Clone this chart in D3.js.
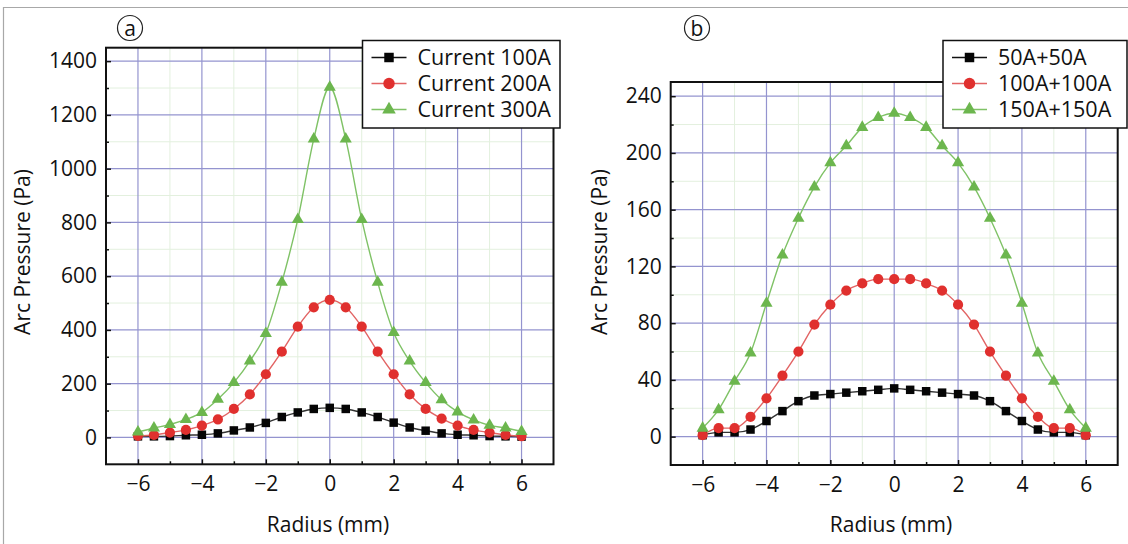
<!DOCTYPE html>
<html>
<head>
<meta charset="utf-8">
<script src="https://cdn.jsdelivr.net/npm/d3@7"></script>
<style>
  body { margin: 0; background: #fff; }
  svg text { font-family: "Open Sans", sans-serif; fill: #111; }
</style>
</head>
<body>
<svg id="chart" width="1128" height="544"></svg>
<script>
// radius positions (mm), shared by all six curves
const radius = [-6, -5.5, -5, -4.5, -4, -3.5, -3, -2.5, -2, -1.5, -1, -0.5, 0,
                0.5, 1, 1.5, 2, 2.5, 3, 3.5, 4, 4.5, 5, 5.5, 6];

// panel a : single arc, arc pressure (Pa)
const current100 = [4, 4, 5, 8, 10, 15, 26, 37, 54, 76, 93, 106, 110, 106, 93, 76, 55, 37, 25, 15, 10, 8, 5, 4, 3];
const current200 = [6, 9, 18, 28, 44, 67, 106, 160, 235, 319, 412, 484, 512, 484, 412, 319, 235, 160, 106, 70, 44, 28, 18, 9, 5];
const current300 = [20, 35, 48, 67, 93, 142, 204, 284, 387, 577, 811, 1110, 1303, 1110, 811, 577, 390, 284, 204, 140, 95, 65, 45, 35, 22];

// panel b : twin arc, arc pressure (Pa)
const twin50  = [1, 3, 3, 5, 11, 18, 25, 29, 30, 31, 32, 33, 34, 33, 32, 31, 30, 29, 25, 18, 11, 5, 3, 3, 1];
const twin100 = [1, 6, 6, 14, 27, 43, 60, 79, 93, 103, 108, 111, 111, 111, 108, 103, 93, 79, 60, 43, 27, 14, 6, 6, 1];
const twin150 = [6, 19, 39, 59, 94, 128, 154, 176, 193, 205, 218, 225, 228, 225, 218, 205, 193, 176, 154, 128, 94, 59, 39, 19, 6];

const namesA = ["Current 100A", "Current 200A", "Current 300A"];
const namesB = ["50A+50A", "100A+100A", "150A+150A"];

const xTicks = [-6, -4, -2, 0, 2, 4, 6];
const xMinor = [-5, -3, -1, 1, 3, 5];
const yTicksA = [0, 200, 400, 600, 800, 1000, 1200, 1400];
const yMinorA = [100, 300, 500, 700, 900, 1100, 1300];
const yTicksB = [0, 40, 80, 120, 160, 200, 240];
const yMinorB = [20, 60, 100, 140, 180, 220];

const xTitle = "Radius (mm)";
const yTitle = "Arc Pressure (Pa)";

// marker / line styles per series index
const styles = [
  { sym: d3.symbolSquare,   size: 72, fill: "#050505", line: "#333333" },
  { sym: d3.symbolCircle,   size: 82, fill: "#e0302e", line: "#e26464" },
  { sym: d3.symbolTriangle, size: 64, fill: "#6cb64e", line: "#7fc266" }
];

const svg = d3.select("#chart");

// outer figure border
svg.append("path")
  .attr("d", "M3.5,544 L3.5,7.5 L1128,7.5")
  .attr("fill", "none")
  .attr("stroke", "#a8a8a8")
  .attr("stroke-width", 1.2);

function panel(cfg) {
  const x = d3.scaleLinear().domain([-7, 7]).range([cfg.left, cfg.right]);
  const y = d3.scaleLinear().domain(cfg.yDomain).range([cfg.bottom, cfg.top]);
  const g = svg.append("g");

  // minor grid
  g.append("g").selectAll("line")
    .data(xMinor)
    .enter().append("line")
    .attr("x1", d => x(d)).attr("x2", d => x(d))
    .attr("y1", cfg.top).attr("y2", cfg.bottom)
    .attr("stroke", "#e3f0de").attr("stroke-width", 1);
  g.append("g").selectAll("line")
    .data(cfg.yMinor)
    .enter().append("line")
    .attr("x1", cfg.left).attr("x2", cfg.right)
    .attr("y1", d => y(d)).attr("y2", d => y(d))
    .attr("stroke", "#e3f0de").attr("stroke-width", 1);

  // major grid
  g.append("g").selectAll("line")
    .data(xTicks)
    .enter().append("line")
    .attr("x1", d => x(d)).attr("x2", d => x(d))
    .attr("y1", cfg.top).attr("y2", cfg.bottom)
    .attr("stroke", "#9494cf").attr("stroke-width", 1.2);
  g.append("g").selectAll("line")
    .data(cfg.yTicks)
    .enter().append("line")
    .attr("x1", cfg.left).attr("x2", cfg.right)
    .attr("y1", d => y(d)).attr("y2", d => y(d))
    .attr("stroke", "#9494cf").attr("stroke-width", 1.2);

  // curves
  const line = d3.line()
    .x((d, i) => x(radius[i]))
    .y(d => y(d))
    .curve(d3.curveMonotoneX);

  cfg.series.forEach((vals, k) => {
    const st = styles[k];
    g.append("path")
      .datum(vals)
      .attr("d", line)
      .attr("fill", "none")
      .attr("stroke", st.line)
      .attr("stroke-width", 1.4);
  });
  cfg.series.forEach((vals, k) => {
    const st = styles[k];
    g.append("g").selectAll("path")
      .data(vals)
      .enter().append("path")
      .attr("transform", (d, i) => "translate(" + x(radius[i]) + "," + y(d) + ")")
      .attr("d", d3.symbol().type(st.sym).size(st.size))
      .attr("fill", st.fill);
  });

  // axes with inward ticks
  const fmt = d3.format("");
  const xAxis = g.append("g")
    .attr("transform", "translate(0," + cfg.bottom + ")")
    .call(d3.axisBottom(x).tickValues(xTicks).tickSize(-5).tickPadding(12).tickFormat(fmt));
  const xAxisMinor = g.append("g")
    .attr("transform", "translate(0," + cfg.bottom + ")")
    .call(d3.axisBottom(x).tickValues(xMinor).tickSize(-3).tickFormat(""));
  const yAxis = g.append("g")
    .attr("transform", "translate(" + cfg.left + ",0)")
    .call(d3.axisLeft(y).tickValues(cfg.yTicks).tickSize(-5).tickPadding(9).tickFormat(fmt));
  const yAxisMinor = g.append("g")
    .attr("transform", "translate(" + cfg.left + ",0)")
    .call(d3.axisLeft(y).tickValues(cfg.yMinor).tickSize(-3).tickFormat(""));

  [xAxis, xAxisMinor, yAxis, yAxisMinor].forEach(a => {
    a.select(".domain").remove();
    a.selectAll("line").attr("stroke", "#111").attr("stroke-width", 1.5);
    a.selectAll("text")
      .style("font-family", "'Open Sans', sans-serif")
      .style("font-size", "21px")
      .attr("fill", "#111");
  });

  // frame
  g.append("rect")
    .attr("x", cfg.left).attr("y", cfg.top)
    .attr("width", cfg.right - cfg.left).attr("height", cfg.bottom - cfg.top)
    .attr("fill", "none").attr("stroke", "#111").attr("stroke-width", 2);

  // titles
  g.append("text")
    .attr("x", cfg.xTitleX).attr("y", 532)
    .attr("text-anchor", "middle")
    .style("font-size", "21px")
    .text(xTitle);
  g.append("text")
    .attr("transform", "translate(" + cfg.yTitleX + ",252) rotate(-90)")
    .attr("text-anchor", "middle")
    .style("font-size", "21px")
    .text(yTitle);

  // circled panel letter
  g.append("circle")
    .attr("cx", cfg.tagX).attr("cy", 28).attr("r", 12.5)
    .attr("fill", "none").attr("stroke", "#222").attr("stroke-width", 1.2);
  g.append("text")
    .attr("x", cfg.tagX).attr("y", 35.5)
    .attr("text-anchor", "middle")
    .style("font-size", "21px")
    .text(cfg.tag);

  // legend
  const lg = g.append("g").attr("transform", "translate(" + cfg.legX + ",40.5)");
  lg.append("rect")
    .attr("width", cfg.legW).attr("height", 87.5)
    .attr("fill", "#fff").attr("stroke", "#111").attr("stroke-width", 1.5);
  cfg.names.forEach((name, k) => {
    const st = styles[k];
    const ry = 17 + k * 26;
    lg.append("line")
      .attr("x1", 9).attr("x2", 44).attr("y1", ry).attr("y2", ry)
      .attr("stroke", k === 0 ? "#111" : st.line).attr("stroke-width", 1.5);
    lg.append("path")
      .attr("transform", "translate(26.5," + ry + ")")
      .attr("d", d3.symbol().type(st.sym).size(st.size * 1.25))
      .attr("fill", st.fill);
    lg.append("text")
      .attr("x", 55).attr("y", ry + 7.5)
      .style("font-size", "21.5px")
      .text(name);
  });
}

panel({
  left: 106, right: 553.5, top: 47.7, bottom: 464.3,
  yDomain: [-100, 1450], yTicks: yTicksA, yMinor: yMinorA,
  series: [current100, current200, current300], names: namesA,
  xTitleX: 328, yTitleX: 30, tag: "a", tagX: 130,
  legX: 362.5, legW: 197.5
});

panel({
  left: 670.7, right: 1117.7, top: 82, bottom: 465,
  yDomain: [-20, 250], yTicks: yTicksB, yMinor: yMinorB,
  series: [twin50, twin100, twin150], names: namesB,
  xTitleX: 891, yTitleX: 607, tag: "b", tagX: 697,
  legX: 943, legW: 184
});
</script>
</body>
</html>
